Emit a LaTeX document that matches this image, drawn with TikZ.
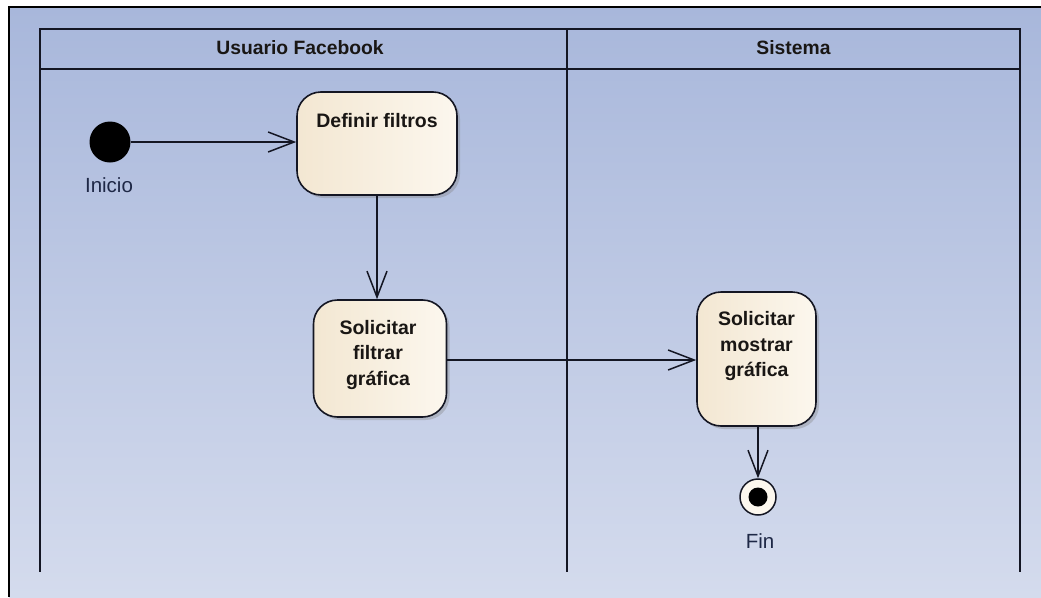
\documentclass[tikz,border=0pt]{standalone}
\usepackage{fontspec}
\setmainfont{Liberation Sans}
\usetikzlibrary{arrows.meta,shadows}
\definecolor{bgtop}{RGB}{168,183,219}
\definecolor{bgbot}{RGB}{212,219,237}
\definecolor{lanec}{RGB}{20,22,35}
\definecolor{creamL}{RGB}{243,231,210}
\definecolor{creamR}{RGB}{252,247,238}
\definecolor{txt}{RGB}{25,22,20}
\definecolor{lbl}{RGB}{30,40,70}
\tikzset{
  actbox/.style={draw=lanec, line width=1.6pt, rounded corners=24pt,
    left color=creamL, right color=creamR, inner sep=0pt,
    drop shadow={shadow xshift=3pt, shadow yshift=-3pt, opacity=0.35}},
  boxtext/.style={text=txt, font=\bfseries\fontsize{19.5}{25.5}\selectfont, align=center, inner sep=0pt},
  headtext/.style={text=txt, font=\bfseries\fontsize{19.3}{22}\selectfont, inner sep=0pt},
  lbltext/.style={text=lbl, font=\fontsize{20.5}{22}\selectfont, inner sep=0pt},
  flow/.style={draw=lanec, line width=1.5pt, -{Straight Barb[length=26pt,width=20pt]}},
  laneline/.style={draw=lanec, line width=1.8pt}
}
\begin{document}
\begin{tikzpicture}[x=1pt,y=-1pt]
\useasboundingbox (0,0) rectangle (1041,597);
\fill[white] (0,0) rectangle (1041,597);
\shade[top color=bgtop, bottom color=bgbot] (9,7) rectangle (1041,597);
% outer frame
\draw[black, line width=1.8pt] (9,597) -- (9,7) -- (1041,7);
% swimlanes
\draw[laneline] (40,29) rectangle (1020,69);
\draw[laneline] (40,69) -- (40,572);
\draw[laneline] (567,29) -- (567,572);
\draw[laneline] (1020,69) -- (1020,572);
\node[headtext] (h1) at (300,48) {Usuario Facebook};
\node[headtext] (h2) at (793.5,48) {Sistema};
% initial node
\node[circle, fill=black, minimum size=41pt, inner sep=0pt] (ini) at (110,142) {};
\node[lbltext] (inilbl) at (109,185) {Inicio};
% activities
\node[actbox, minimum width=160pt, minimum height=103pt] (def) at (377,143.5) {};
\node[boxtext] (deft) at (377,121) {Definir filtros};
\node[actbox, minimum width=133pt, minimum height=117pt] (sol) at (380,358.5) {};
\node[boxtext] (solt) at (378,354.5) {Solicitar\\filtrar\\gráfica};
\node[actbox, minimum width=119pt, minimum height=134pt] (mos) at (756.5,359) {};
\node[boxtext] (most) at (756.5,346) {Solicitar\\mostrar\\gráfica};
% final node
\node[circle, draw=lanec, line width=1.5pt, fill=creamR, minimum size=36pt, inner sep=0pt] (fin) at (758,497) {};
\node[circle, fill=black, minimum size=19pt, inner sep=0pt] (fincore) at (fin.center) {};
\node[lbltext] (finlbl) at (760,541) {Fin};
% flows
\draw[flow] (ini.east) -- (def.west |- ini.east);
\draw[flow] (def.south) -- (sol.north -| def.south);
\draw[flow] (sol.east |- 0,360) -- (mos.west |- 0,360);
\draw[flow] (mos.south -| fin.north) -- (fin.north);
\end{tikzpicture}
\end{document}
